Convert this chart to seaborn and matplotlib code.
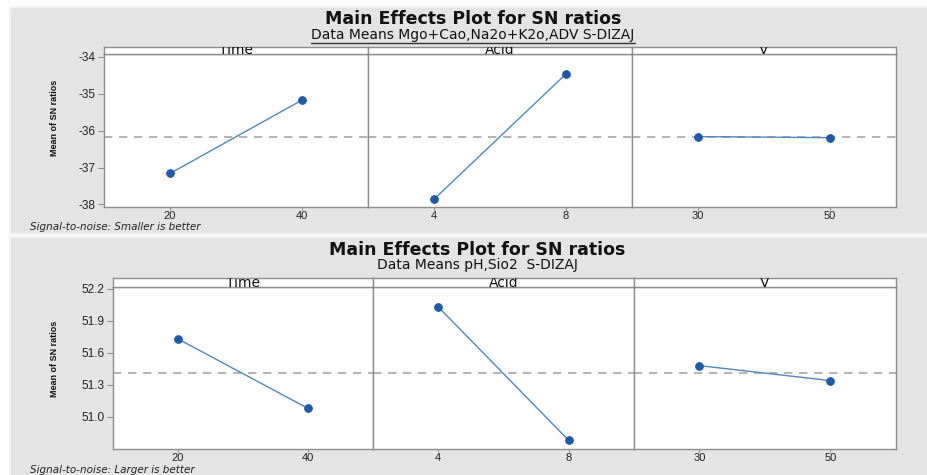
import numpy as np
import pandas as pd
import matplotlib
matplotlib.use("Agg")
import matplotlib.pyplot as plt
import seaborn as sns
from matplotlib.patches import Rectangle
from matplotlib.lines import Line2D

# ---- data -------------------------------------------------------------
factors = ["Time", "Acid", "V"]
levels = {"Time": [20, 40], "Acid": [4, 8], "V": [30, 50]}

# Smaller-is-better response (MgO+CaO, Na2O+K2O, ADV)
sn_smaller_time = [-37.16, -35.17]
sn_smaller_acid = [-37.86, -34.46]
sn_smaller_v = [-36.16, -36.19]

# Larger-is-better response (pH, SiO2)
sn_larger_time = [51.73, 51.08]
sn_larger_acid = [52.03, 50.78]
sn_larger_v = [51.48, 51.34]

yticks_top = [-38, -37, -36, -35, -34]
ytick_labels_top = ["-38", "-37", "-36", "-35", "-34"]
yticks_bottom = [51.0, 51.3, 51.6, 51.9, 52.2]
ytick_labels_bottom = ["51.0", "51.3", "51.6", "51.9", "52.2"]

title = "Main Effects Plot for SN ratios"
subtitle_top = "Data Means Mgo+Cao,Na2o+K2o,ADV S-DIZAJ"
subtitle_bottom = "Data Means pH,Sio2  S-DIZAJ"
note_top = "Signal-to-noise: Smaller is better"
note_bottom = "Signal-to-noise: Larger is better"
ylabel = "Mean of SN ratios"

# ---- styling ----------------------------------------------------------
sns.set_style("white")
plt.rcParams["font.family"] = ["Liberation Sans", "DejaVu Sans"]

W, H = 928, 475
fig = plt.figure(figsize=(W / 100, H / 100), dpi=100)
fig.patch.set_facecolor("white")

BG = "#e4e4e4"
SPINE = "#8e8e8e"
MARK = "#1f5aa6"
LINE = "#4f88c0"
DASH = "#a8a8a8"


def fbox(x0, y0, x1, y1):
    """pixel box (top-left origin) -> figure fraction rect"""
    return [x0 / W, 1 - y1 / H, (x1 - x0) / W, (y1 - y0) / H]


def fx(x):
    return x / W


def fy(y):
    return 1 - y / H


def draw_block(top, bottom, edges, ax_top, ax_bot, strip_top, values, yticks,
               yticklabels, ylim, sub, note, title_y, sub_y, note_y, ylab_y,
               underline):
    # panel background
    fig.patches.append(Rectangle((fx(10), fy(bottom)), fx(W - 10), (bottom - top) / H,
                                 transform=fig.transFigure, facecolor=BG,
                                 edgecolor="#f2f2f2", lw=1.5, zorder=-5))
    grand_mean = float(np.mean(np.concatenate([np.asarray(v) for v in values])))
    for i, (fac, vals) in enumerate(zip(factors, values)):
        x0, x1 = edges[i], edges[i + 1]
        ax = fig.add_axes(fbox(x0, ax_top, x1, ax_bot))
        ax.set_facecolor("white")
        df = pd.DataFrame({"pos": [0, 1], "sn": vals})
        ax.axhline(grand_mean, color=DASH, ls=(0, (5, 4)), lw=1.2, zorder=1)
        sns.lineplot(data=df, x="pos", y="sn", ax=ax, color=LINE, lw=1.0,
                     marker="o", markersize=5.5, markerfacecolor=MARK,
                     markeredgecolor=MARK, zorder=3)
        ax.set_xlim(-0.5, 1.5)
        ax.set_ylim(*ylim)
        ax.set_xticks([0, 1])
        ax.set_xticklabels([str(v) for v in levels[fac]])
        ax.set_xlabel("")
        ax.set_ylabel("")
        ax.tick_params(axis="x", length=2, color=SPINE, labelsize=8,
                       labelcolor="#222222", pad=1, bottom=True)
        if i == 0:
            ax.set_yticks(yticks)
            ax.set_yticklabels(yticklabels)
            ax.tick_params(axis="y", length=4, color=SPINE, labelsize=8.5,
                           labelcolor="#222222", pad=2, left=True)
        else:
            ax.set_yticks([])
        for s in ax.spines.values():
            s.set_color(SPINE)
            s.set_linewidth(1.0)

        # strip header
        sax = fig.add_axes(fbox(x0, strip_top, x1, ax_top))
        sax.set_facecolor("white")
        sax.set_xticks([])
        sax.set_yticks([])
        for s in sax.spines.values():
            s.set_color(SPINE)
            s.set_linewidth(1.0)
        sax.text(0.5, 0.0, fac, ha="center", va="baseline", fontsize=10,
                 family="DejaVu Sans", transform=sax.transAxes, clip_on=True,
                 color="#111111")

    cx = (edges[0] + edges[-1]) / 2 - 27
    fig.text(fx(cx), fy(title_y), title, ha="center", va="center",
             fontsize=12.5, fontweight="bold", family="DejaVu Sans",
             color="#111111")
    t = fig.text(fx(cx), fy(sub_y), sub, ha="center", va="center",
                 fontsize=10, color="#111111", family="DejaVu Sans")
    if underline:
        fig.canvas.draw()
        bb = t.get_window_extent()
        fig.lines.append(Line2D([bb.x0 / W, bb.x1 / W],
                                [bb.y0 / H - 0.002, bb.y0 / H - 0.002],
                                transform=fig.transFigure, color="#333333",
                                lw=1.0))
    fig.text(fx(30), fy(note_y), note, ha="left", va="center", fontsize=7.5,
             style="italic", family="DejaVu Sans", color="#222222")
    fig.text(fx(55), fy(ylab_y), ylabel, ha="center", va="center",
             rotation=90, fontsize=6.5, fontweight="bold", color="#111111")


draw_block(7, 234, [104, 368, 632, 896], 54, 207, 47,
           [sn_smaller_time, sn_smaller_acid, sn_smaller_v],
           yticks_top, ytick_labels_top, (-38.07, -33.92), subtitle_top,
           note_top, 19, 35, 227, 118, True)

draw_block(237, 478, [113, 373, 634, 896], 287, 449, 278,
           [sn_larger_time, sn_larger_acid, sn_larger_v],
           yticks_bottom, ytick_labels_bottom, (50.70, 52.216), subtitle_bottom,
           note_bottom, 250, 265, 470, 359, False)

fig.savefig("out.png", dpi=100, facecolor=fig.get_facecolor())
